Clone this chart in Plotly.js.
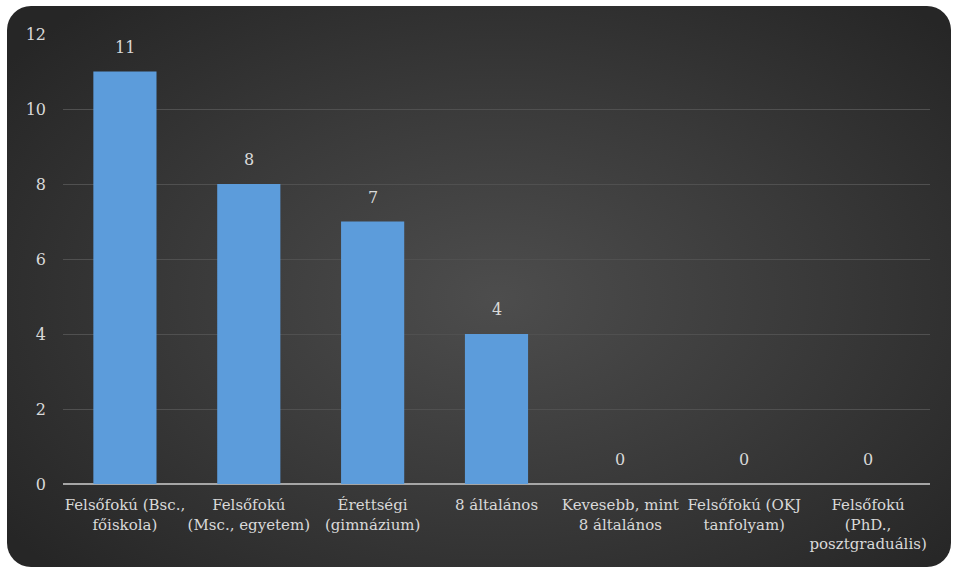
<!DOCTYPE html>
<html>
<head>
<meta charset="utf-8">
<script src="https://cdn.plot.ly/plotly-3.0.1.min.js"></script>
<style>
  html, body { margin: 0; padding: 0; background: #ffffff; }
  #wrap { position: absolute; left: 0; top: 0; width: 958px; height: 573px; }
  #bg {
    position: absolute; left: 7px; top: 6px; width: 944px; height: 561px;
    border-radius: 24px;
    background: radial-gradient(ellipse 65% 70% at 52% 52%, #4d4d4d 0%, #3a3a3a 50%, #262626 100%);
  }
  #chart { position: absolute; left: 0; top: 0; width: 958px; height: 573px; }
</style>
</head>
<body>
<div id="wrap">
  <div id="bg"></div>
  <div id="chart"></div>
</div>
<script>
const categories = [
  "Felsőfokú (Bsc.,<br>főiskola)",
  "Felsőfokú<br>(Msc., egyetem)",
  "Érettségi<br>(gimnázium)",
  "8 általános",
  "Kevesebb, mint<br>8 általános",
  "Felsőfokú (OKJ<br>tanfolyam)",
  "Felsőfokú<br>(PhD.,<br>posztgraduális)"
];
const values = [11, 8, 7, 4, 0, 0, 0];
const yTicks = [0, 2, 4, 6, 8, 10, 12];

const font = { family: "DejaVu Serif", size: 15, color: "#d9d9d9" };
const numFont = { family: "DejaVu Serif", size: 16, color: "#d9d9d9" };

const trace = {
  type: "bar",
  x: categories,
  y: values,
  marker: { color: "#5c9cdb", line: { width: 0 } },
  hoverinfo: "none"
};

const annotations = categories.map((c, i) => ({
  x: c, y: values[i], xref: "x", yref: "y",
  text: String(values[i]),
  showarrow: false,
  yanchor: "bottom",
  yshift: 13,
  font: numFont
}));

const layout = {
  width: 958, height: 573,
  margin: { l: 63, r: 28, t: 34, b: 89 },
  paper_bgcolor: "rgba(0,0,0,0)",
  plot_bgcolor: "rgba(0,0,0,0)",
  font: font,
  bargap: 0.49,
  showlegend: false,
  annotations: annotations,
  xaxis: {
    type: "category",
    tickfont: font,
    showgrid: false,
    showline: false,
    ticks: "",
    ticklabelstandoff: 10,
    automargin: false
  },
  yaxis: {
    range: [0, 12],
    tickvals: yTicks,
    ticktext: yTicks.map(String),
    tickfont: numFont,
    showgrid: true,
    gridcolor: "#505050",
    gridwidth: 1,
    zeroline: true,
    zerolinecolor: "#a6a6a6",
    zerolinewidth: 2,
    showline: false,
    ticks: "",
    ticklabelstandoff: 16,
    automargin: false
  }
};

Plotly.newPlot("chart", [trace], layout, { displayModeBar: false, staticPlot: true });
</script>
</body>
</html>
